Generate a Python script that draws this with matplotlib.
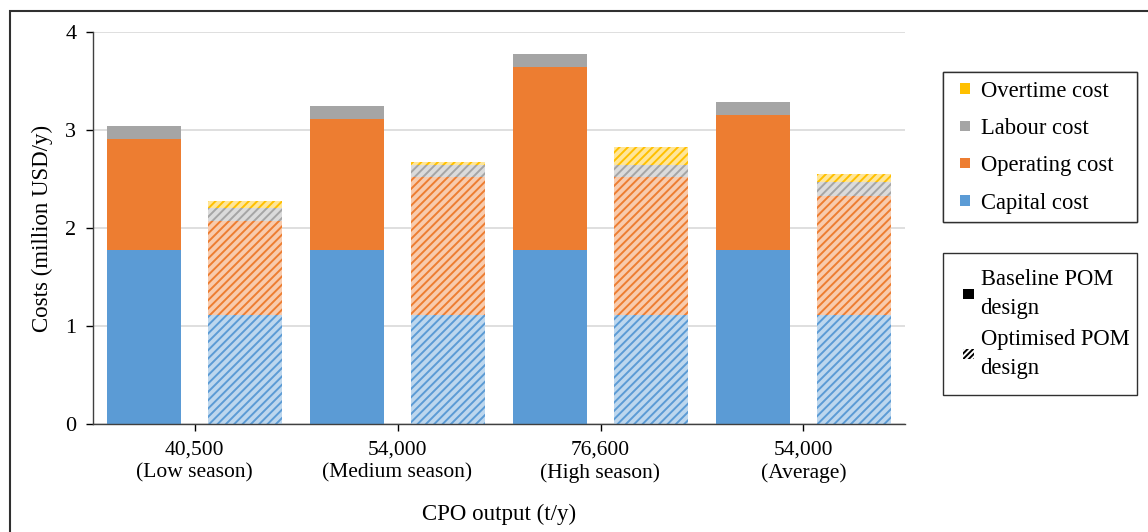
import matplotlib
matplotlib.use("Agg")
import matplotlib.pyplot as plt
import numpy as np
from matplotlib.patches import Rectangle, Patch
from matplotlib.legend_handler import HandlerPatch
from matplotlib.colors import to_rgb

plt.rcParams['font.family'] = ['Liberation Serif', 'DejaVu Serif']
plt.rcParams['hatch.linewidth'] = 1.4

categories = ["40,500\n(Low season)", "54,000\n(Medium season)",
              "76,600\n(High season)", "54,000\n(Average)"]

# Baseline POM design (million USD/y)
base_capital = [1.78, 1.78, 1.78, 1.78]
base_operating = [1.13, 1.33, 1.86, 1.37]
base_labour = [0.13, 0.135, 0.14, 0.14]
base_overtime = [0.0, 0.0, 0.0, 0.0]

# Optimised POM design (million USD/y)
opt_capital = [1.11, 1.11, 1.11, 1.11]
opt_operating = [0.96, 1.41, 1.41, 1.22]
opt_labour = [0.13, 0.12, 0.125, 0.135]
opt_overtime = [0.08, 0.035, 0.18, 0.085]

series_names = ["Capital cost", "Operating cost", "Labour cost", "Overtime cost"]
colors = ["#5B9BD5", "#ED7D31", "#A5A5A5", "#FFC000"]

W, H = 1148, 532
fig = plt.figure(figsize=(W / 100, H / 100), dpi=100)
ax = fig.add_axes([93 / W, 1 - 424 / H, (905 - 93) / W, (424 - 32) / H])

x = np.arange(len(categories))
bw = 0.365
off = 0.25

def tint(c, f=0.6):
    r = np.array(to_rgb(c))
    return tuple(r + (1 - r) * f)

base = [base_capital, base_operating, base_labour, base_overtime]
opt = [opt_capital, opt_operating, opt_labour, opt_overtime]

bottom = np.zeros(len(x))
for vals, c in zip(base, colors):
    v = np.array(vals)
    ax.bar(x - off, v, bw, bottom=bottom, color=c, linewidth=0, zorder=2)
    bottom += v

bottom = np.zeros(len(x))
for vals, c in zip(opt, colors):
    v = np.array(vals)
    ax.bar(x + off, v, bw, bottom=bottom, facecolor=tint(c), edgecolor=c,
           hatch='////', linewidth=0, zorder=2)
    bottom += v

ax.set_xlim(-0.5, 3.5)
ax.set_ylim(0, 4)
ax.set_yticks([0, 1, 2, 3, 4])
ax.set_xticks(x)
ax.set_xticklabels(categories, fontsize=15.5, linespacing=1.25)
ax.tick_params(axis='y', labelsize=16, length=5, width=1, direction='out', pad=7)
ax.tick_params(axis='x', length=5, width=1, direction='out', pad=7)
ax.yaxis.grid(True, color='#d9d9d9', linewidth=1.2, zorder=0)
ax.set_axisbelow(True)
for s in ['top', 'right']:
    ax.spines[s].set_visible(False)
for s in ['left', 'bottom']:
    ax.spines[s].set_color('#404040')
    ax.spines[s].set_linewidth(1.0)

ax.set_ylabel("Costs (million USD/y)", fontsize=16.5, labelpad=9)
ax.set_xlabel("CPO output (t/y)", fontsize=16.5, labelpad=15)


def small_square(legend, orig_handle, xdescent, ydescent, width, height, fontsize):
    s = 0.46 * fontsize
    return Rectangle((width / 2 - s / 2 - xdescent, height / 2 - s / 2 - ydescent), s, s)

hm = HandlerPatch(patch_func=small_square)

handles1 = [Patch(facecolor=c, edgecolor='none', label=n)
            for n, c in zip(series_names[::-1], colors[::-1])]
leg1 = fig.legend(handles=handles1, loc='upper left',
                  bbox_to_anchor=(943 / W, 1 - 72 / H, (1137 - 943) / W, 0),
                  mode='expand', fontsize=16.3, frameon=True, fancybox=False,
                  edgecolor='#303030', framealpha=1, borderaxespad=0,
                  handlelength=1.2, handleheight=0.7, handletextpad=0.1,
                  labelspacing=0.72, borderpad=0.38,
                  handler_map={Patch: hm})
leg1.get_frame().set_linewidth(1.0)
fig.add_artist(leg1)

handles2 = [Patch(facecolor='black', edgecolor='none', label="Baseline POM\ndesign"),
            Patch(facecolor='white', edgecolor='black', hatch='//////', linewidth=0,
                  label="Optimised POM\ndesign")]
leg2 = fig.legend(handles=handles2, loc='upper left',
                  bbox_to_anchor=(943 / W, 1 - 253 / H, (1137 - 943) / W, 0),
                  mode='expand', fontsize=16.3, frameon=True, fancybox=False,
                  edgecolor='#303030', framealpha=1, borderaxespad=0,
                  handlelength=0.86, handleheight=0.7, handletextpad=0.1,
                  labelspacing=0.44, borderpad=0.7,
                  handler_map={Patch: hm})
leg2.get_frame().set_linewidth(1.0)
for t in leg2.get_texts():
    t.set_linespacing(1.5)

# outer frame (top and left edges visible)
fig.add_artist(Rectangle((10 / W, -0.2), 1.5, 1.2 - 11 / H, transform=fig.transFigure,
                         fill=False, edgecolor='#303030', linewidth=1.5))

fig.savefig("out.png", dpi=100)
